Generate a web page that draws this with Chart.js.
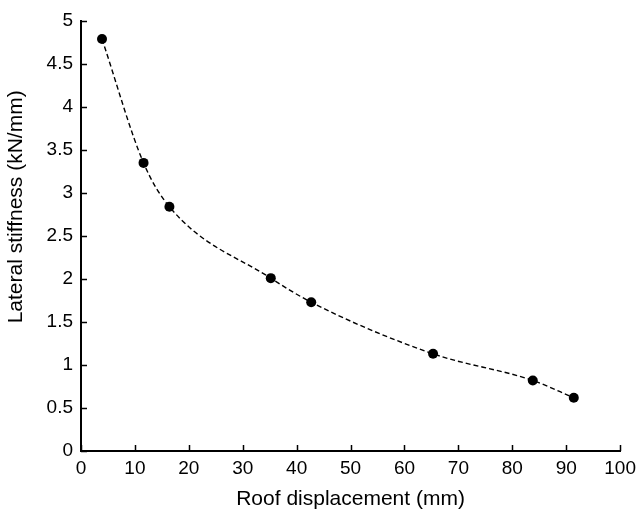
<!DOCTYPE html>
<html>
<head>
<meta charset="utf-8">
<script src="https://cdn.jsdelivr.net/npm/chart.js@4"></script>
<style>
  html, body { margin: 0; padding: 0; background: #fff; }
  #wrap { width: 642px; height: 514px; }
</style>
</head>
<body>
<div id="wrap"><canvas id="stiffness" width="642" height="514"></canvas></div>
<script>
// values
const roofDisplacement = [3.9, 11.6, 16.4, 35.2, 42.7, 65.3, 83.8, 91.4];
const lateralStiffness = [4.79, 3.35, 2.84, 2.01, 1.73, 1.13, 0.82, 0.62];

const xTicks = { min: 0, max: 100, step: 10 };
const yTicks = { min: 0, max: 5, step: 0.5 };

const FONT = 'Liberation Sans, Arial, Helvetica, sans-serif';

// small tick marks drawn inward from the two spines
const inwardTicks = {
  id: 'inwardTicks',
  afterDraw(chart) {
    const { ctx, chartArea } = chart;
    const x = chart.scales.x, y = chart.scales.y;
    const len = 6;
    ctx.save();
    ctx.strokeStyle = '#000';
    ctx.lineWidth = 1.5;
    ctx.beginPath();
    x.ticks.forEach(t => {
      const px = Math.round(x.getPixelForValue(t.value)) + 0.5;
      ctx.moveTo(px, chartArea.bottom);
      ctx.lineTo(px, chartArea.bottom - len);
    });
    y.ticks.forEach(t => {
      const py = Math.round(y.getPixelForValue(t.value)) + 0.5;
      ctx.moveTo(chartArea.left, py);
      ctx.lineTo(chartArea.left + len, py);
    });
    ctx.stroke();
    ctx.restore();
  }
};

new Chart(document.getElementById('stiffness'), {
  type: 'line',
  data: {
    datasets: [{
      data: roofDisplacement.map((d, i) => ({ x: d, y: lateralStiffness[i] })),
      borderColor: '#000',
      borderWidth: 1.4,
      borderDash: [5, 3],
      cubicInterpolationMode: 'monotone',
      pointRadius: 5,
      pointBackgroundColor: '#000',
      pointBorderColor: '#000',
      pointBorderWidth: 0,
      fill: false,
    }],
  },
  options: {
    responsive: false,
    maintainAspectRatio: false,
    animation: false,
    layout: { padding: { top: 21, right: 19, left: 0, bottom: 0 } },
    plugins: {
      legend: { display: false },
      title: { display: false },
      tooltip: { enabled: false },
    },
    scales: {
      x: {
        type: 'linear',
        min: xTicks.min,
        max: xTicks.max,
        ticks: { stepSize: xTicks.step, color: '#000', padding: 6, maxRotation: 0,
                 font: { family: FONT, size: 19 } },
        grid: { display: false, drawTicks: false, tickLength: 0 },
        border: { display: true, color: '#000', width: 2 },
        title: { display: true, text: 'Roof displacement (mm)', color: '#000',
                 font: { family: FONT, size: 21 }, padding: { top: 2, bottom: 2 } },
        afterFit(scale) { scale.height = 63; },
      },
      y: {
        type: 'linear',
        min: yTicks.min,
        max: yTicks.max,
        ticks: { stepSize: yTicks.step, color: '#000', padding: 8,
                 font: { family: FONT, size: 19 },
                 callback: v => String(Number(v.toFixed(1))) },
        grid: { display: false, drawTicks: false, tickLength: 0 },
        border: { display: true, color: '#000', width: 2 },
        // leading spaces push the title up a little, as in the figure
        title: { display: true, text: '          Lateral stiffness (kN/mm)', color: '#000',
                 font: { family: FONT, size: 21 }, padding: { top: 4, bottom: 4 } },
        afterFit(scale) { scale.width = 81; },
      },
    },
  },
  plugins: [inwardTicks],
});
</script>
</body>
</html>
